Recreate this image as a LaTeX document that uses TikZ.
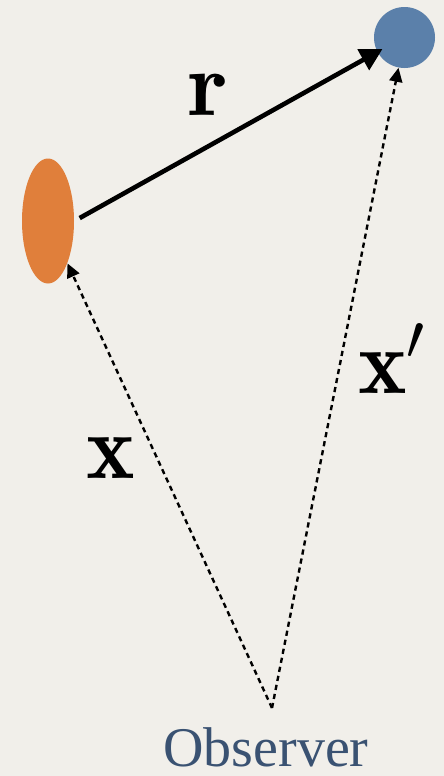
\RequirePackage{fix-cm}
\documentclass[tikz,border=0pt]{standalone}
\usepackage{amsmath,amssymb}
\usepackage{fontspec}
\newfontfamily\obsfont{Liberation Serif}
\usepackage{tikz}
\usetikzlibrary{shapes.geometric, arrows.meta, positioning, calc}
\usepackage{xcolor}
\definecolor{paper}{HTML}{F1EFEA}
\definecolor{srcorange}{HTML}{E07F3B}
\definecolor{dstblue}{HTML}{5B80AA}
\definecolor{obsblue}{HTML}{3A5272}

\begin{document}
\begin{tikzpicture}[
    x=0.5pt, y=-0.5pt,
    vec/.style={font=\fontsize{46}{46}\selectfont, inner sep=0pt},
    solidarrow/.style={-{Triangle[length=11pt, width=11.5pt]}, line width=2.3pt},
    sightline/.style={-{Triangle[length=7pt, width=6.5pt]}, line width=1.2pt, dash pattern=on 2.6pt off 2pt}
]
    % background
    \fill[paper] (0,0) rectangle (444,776);

    \node[ellipse, fill=srcorange, minimum width=26pt, minimum height=62.5pt, inner sep=0pt] (src) at (48,221) {};
    \node[circle, fill=dstblue, minimum size=30.5pt, inner sep=0pt] (dst) at (404.5,37.5) {};
    \coordinate (obs) at (272,708);
    \node[font=\obsfont\fontsize{28}{28}\selectfont, text=obsblue, anchor=base, inner sep=0pt] (obslabel) at (266,766) {Observer};

    % vectors
    \draw[solidarrow, shorten <=3pt, shorten >=-3pt] (src.east) -- (dst.208);
    \draw[sightline] (obs) -- (src);
    \draw[sightline] (obs) -- (dst);

    \node[vec, anchor=base] (rlabel) at (208,115) {$\mathbf{r}$};
    \node[vec, anchor=base] (xlabel) at (111,478) {$\mathbf{x}$};
    \node[vec, anchor=base west] (xplabel) at (358,393) {$\mathbf{x}'$};
\end{tikzpicture}
\end{document}
